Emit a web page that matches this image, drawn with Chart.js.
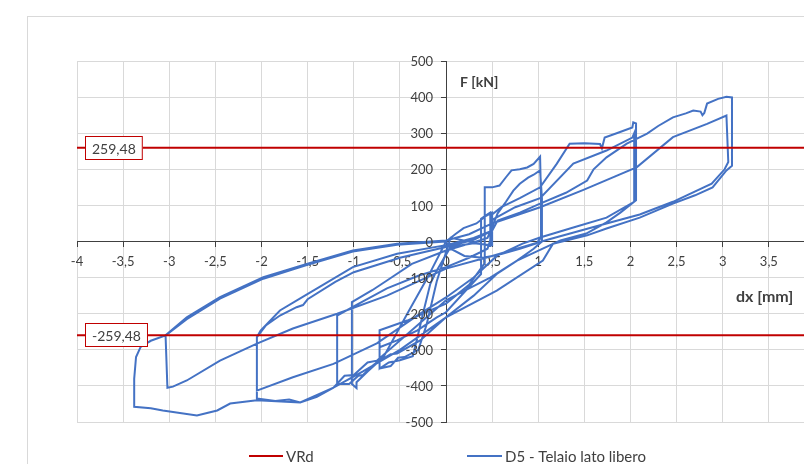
<!DOCTYPE html>
<html>
<head>
<meta charset="utf-8">
<script src="https://cdn.jsdelivr.net/npm/chart.js@4/dist/chart.umd.min.js"></script>
<style>
  html, body { margin: 0; padding: 0; background: #fff; overflow: hidden; }
  #wrap { position: absolute; left: 0; top: 0; width: 840px; height: 500px; }
</style>
</head>
<body>
<div id="wrap"><canvas id="c" width="840" height="500"></canvas></div>
<script>
// Shear resistance threshold (kN)
const vrd = 259.48;

// Axis ticks
const xTicks = [-4, -3.5, -3, -2.5, -2, -1.5, -1, -0.5, 0, 0.5, 1, 1.5, 2, 2.5, 3, 3.5, 4];
const yTicks = [-500, -400, -300, -200, -100, 0, 100, 200, 300, 400, 500];

// D5 - Telaio lato libero: [dx (mm), F (kN)] readings, one array per amplitude step
const cycle05 = [
  [0, 0], [0.10, 20], [0.19, 37], [0.33, 50], [0.44, 72], [0.50, 80], [0.50, -10], [0.30, -5], [0.05, -15],
  [-0.10, -80], [-0.17, -117], [-0.25, -200], [-0.31, -266], [-0.36, -318], [-0.50, -329], [-0.62, -335], [-0.72, -352],
  [-0.72, -293], [-0.53, -274], [-0.31, -246], [-0.10, -210], [0, -196], [0.20, -140], [0.38, -90], [0.38, -30],
  [0.38, 63], [0.45, 75], [0.48, 80], [0.48, -12], [0.25, 0], [0.05, 10], [-0.10, -110], [-0.21, -230], [-0.30, -300],
  [-0.45, -320], [-0.52, -322], [-0.60, -345], [-0.72, -352], [-0.72, -246], [-0.42, -219], [-0.17, -191], [0, -172],
  [0.25, -120], [0.42, -60], [0.42, 58]
];
const cycle1 = [
  [0.42, 150], [0.50, 150], [0.58, 155], [0.65, 178], [0.71, 197], [0.80, 200], [0.88, 205], [0.95, 215], [1.02, 235],
  [1.03, 120], [1.03, 11], [0.98, -5], [0.80, -20], [0.60, -35], [0.40, -45], [0.20, -40], [0.05, -20], [0, 0],
  [-0.20, -100], [-0.42, -200], [-0.68, -321], [-0.85, -360], [-0.97, -390], [-0.97, -406], [-1.02, -395], [-1.02, -168],
  [-0.80, -135], [-0.64, -108], [-0.37, -62], [0, -25], [0.20, -10], [0.45, 10], [0.50, 40], [0.56, 78], [0.65, 110],
  [0.73, 141], [0.80, 160], [0.89, 177], [0.95, 185], [1.02, 197], [1.04, 120], [1.04, 0], [0.95, -20], [0.77, -53],
  [0.55, -90], [0.30, -150], [0, -210], [-0.28, -274], [-0.53, -310], [-0.60, -312], [-0.75, -335], [-0.80, -345],
  [-0.90, -370], [-0.95, -372], [-1.05, -395], [-1.18, -394], [-1.18, -205], [-1.00, -180], [-0.64, -130], [-0.30, -95],
  [0, -71], [0.25, -45], [0.45, -20], [0.50, 20], [0.50, 75]
];
const cycle2 = [
  [0.60, 95], [0.80, 120], [1.02, 150], [1.20, 215], [1.34, 271], [1.50, 272], [1.67, 270], [1.69, 258], [1.72, 288],
  [1.85, 300], [2.02, 316], [2.03, 330], [2.06, 327], [2.06, 200], [2.06, 114], [1.89, 80], [1.74, 53], [1.52, 22],
  [1.31, 8], [1.24, 3], [0.77, -53], [0.48, -100], [0.25, -130], [0, -163], [-0.30, -230], [-0.75, -330], [-0.85, -335],
  [-1.00, -370], [-1.10, -372], [-1.22, -405], [-1.40, -430], [-1.58, -446], [-1.70, -438], [-1.85, -442], [-2.05, -435],
  [-2.05, -265], [-2.01, -247], [-1.80, -191], [-1.53, -150], [-1.37, -126], [-1.01, -71], [-0.53, -34], [0, -10],
  [0.30, 10], [0.50, 30], [0.50, 60], [0.75, 95], [1.02, 120], [1.38, 216], [1.74, 252], [2.02, 288], [2.04, 300],
  [2.04, 110], [1.74, 66], [1.38, 39], [1.02, 11], [0.83, -6], [0.55, -40], [0.30, -100], [0, -155], [-0.28, -200],
  [-0.75, -282], [-1.22, -339], [-1.66, -376], [-2.05, -413], [-2.05, -265], [-1.95, -232], [-1.80, -205], [-1.62, -182],
  [-1.55, -176], [-1.50, -160], [-1.20, -112], [-1.00, -85], [-0.50, -45], [0, -15], [0.30, 5], [0.50, 30]
];
const cycle3 = [
  [0.56, 58], [0.80, 80], [1.02, 105], [1.30, 135], [1.53, 169], [1.60, 200], [1.74, 233], [1.96, 271], [2.18, 299],
  [2.30, 320], [2.46, 344], [2.60, 355], [2.68, 363], [2.76, 360], [2.78, 350], [2.80, 356], [2.83, 382], [2.95, 395],
  [3.04, 401], [3.10, 399], [3.10, 300], [3.10, 210], [3.04, 197], [2.89, 150], [2.70, 128], [2.46, 105], [2.10, 66],
  [1.74, 36], [1.53, 17], [1.16, -6], [1.05, -53], [0.55, -136], [0, -210], [-0.50, -300], [-0.90, -360], [-1.22, -405],
  [-1.58, -446], [-2.05, -440], [-2.34, -449], [-2.48, -468], [-2.70, -482], [-3.07, -468], [-3.20, -462], [-3.38, -458],
  [-3.38, -380], [-3.36, -320], [-3.31, -292], [-3.20, -275], [-3.04, -260], [-2.81, -210], [-2.45, -154], [-1.98, -99],
  [-1.51, -62], [-1.01, -25], [-0.53, -6], [0, 3], [0.25, 20], [0.50, 50], [1.02, 95], [1.49, 143], [2.07, 206],
  [2.46, 289], [2.83, 326], [3.04, 349], [3.06, 220], [3.02, 200], [2.88, 160], [2.46, 110], [2.10, 75], [1.60, 40],
  [1.10, 5], [0.50, -40], [0, -75], [-0.64, -150], [-1.18, -200], [-1.66, -241], [-2.05, -283], [-2.45, -330],
  [-2.81, -385], [-2.96, -402], [-3.02, -405], [-3.04, -260], [-2.81, -215], [-2.45, -158], [-1.98, -103], [-1.51, -65],
  [-1.01, -28], [-0.53, -9], [0, 0]
];

const fmt = v => String(v).replace('.', ',');
const curve = [].concat(cycle05, cycle1, cycle2, cycle3).map(([x, y]) => ({ x, y }));

const RED = '#c00000';
const BLUE = '#4472c4';
const TEXT = '#404040';
const FONT = 'Lato, "Open Sans", sans-serif';

const decorations = {
  id: 'decorations',
  beforeDraw(chart) {
    const ctx = chart.ctx;
    ctx.save();
    ctx.fillStyle = '#fff';
    ctx.fillRect(0, 0, chart.width, chart.height);
    ctx.strokeStyle = '#d9d9d9';
    ctx.lineWidth = 1;
    ctx.strokeRect(27.5, 16.5, 900, 600);
    ctx.restore();
  },
  afterDraw(chart) {
    const ctx = chart.ctx;
    const xs = chart.scales.x;
    const ys = chart.scales.y;
    ctx.save();

    // force tick labels, left of the vertical axis
    const axisX = xs.getPixelForValue(0);
    ctx.font = '13px ' + FONT;
    ctx.fillStyle = TEXT;
    ctx.textAlign = 'right';
    ctx.textBaseline = 'middle';
    yTicks.forEach(v => ctx.fillText(fmt(v), axisX - 13, ys.getPixelForValue(v) + 1));

    // VRd value boxes
    const box = (val) => {
      const text = fmt(val);
      ctx.font = '14px ' + FONT;
      const w = ctx.measureText(text).width + 14;
      const h = 24;
      const x = 85;
      const yc = Math.round(ys.getPixelForValue(val));
      ctx.fillStyle = '#fff';
      ctx.fillRect(x, yc - h / 2, w, h);
      ctx.strokeStyle = RED;
      ctx.lineWidth = 1;
      ctx.strokeRect(x + 0.5, yc - h / 2 + 0.5, w - 1, h - 1);
      ctx.fillStyle = TEXT;
      ctx.textAlign = 'left';
      ctx.textBaseline = 'middle';
      ctx.fillText(text, x + 7, yc + 1);
    };
    box(vrd);
    box(-vrd);

    // axis titles
    ctx.font = 'bold 14px ' + FONT;
    ctx.fillStyle = TEXT;
    ctx.textAlign = 'left';
    ctx.textBaseline = 'middle';
    ctx.fillText('F [kN]', 460, 82);
    ctx.font = 'bold 16px ' + FONT;
    ctx.fillText('dx [mm]', 736, 297);

    // legend
    ctx.font = '15px ' + FONT;
    ctx.lineWidth = 2;
    ctx.strokeStyle = RED;
    ctx.beginPath(); ctx.moveTo(249, 456); ctx.lineTo(283, 456); ctx.stroke();
    ctx.fillText('VRd', 286, 457);
    ctx.strokeStyle = BLUE;
    ctx.beginPath(); ctx.moveTo(467, 456); ctx.lineTo(502, 456); ctx.stroke();
    ctx.fillText('D5 - Telaio lato libero', 505, 457);
    ctx.restore();
  }
};

const zeroPad = s => { s.paddingLeft = 0; s.paddingRight = 0; s.paddingTop = 0; s.paddingBottom = 0; };

new Chart(document.getElementById('c'), {
  type: 'scatter',
  data: {
    datasets: [
      { label: 'VRd', data: [{ x: -4, y: vrd }, { x: 4, y: vrd }], showLine: true, borderColor: RED, borderWidth: 2, pointRadius: 0, order: 0 },
      { label: 'VRd-', data: [{ x: -4, y: -vrd }, { x: 4, y: -vrd }], showLine: true, borderColor: RED, borderWidth: 2, pointRadius: 0, order: 0 },
      { label: 'D5 - Telaio lato libero', data: curve, showLine: true, borderColor: BLUE, borderWidth: 2, pointRadius: 0, tension: 0, order: 1 }
    ]
  },
  options: {
    responsive: false,
    animation: false,
    events: [],
    layout: { autoPadding: false, padding: { left: 77, top: 61, right: 25, bottom: 78 } },
    plugins: { legend: { display: false }, tooltip: { enabled: false }, title: { display: false } },
    scales: {
      x: {
        type: 'linear', min: -4, max: 4, position: { y: 0 },
        afterBuildTicks: s => { s.ticks = xTicks.map(v => ({ value: v })); },
        afterFit: zeroPad,
        grid: { color: '#d9d9d9', lineWidth: 1, tickColor: TEXT, tickLength: 5 },
        border: { color: TEXT, width: 1 },
        ticks: { color: TEXT, font: { family: FONT, size: 13 }, padding: 8, maxRotation: 0, autoSkip: false, callback: v => fmt(v) }
      },
      y: {
        type: 'linear', min: -500, max: 500, position: { x: 0 },
        afterBuildTicks: s => { s.ticks = yTicks.map(v => ({ value: v })); },
        afterFit: zeroPad,
        grid: { color: '#d9d9d9', lineWidth: 1, tickColor: TEXT, tickLength: 5 },
        border: { color: TEXT, width: 1 },
        ticks: { display: false }
      }
    }
  },
  plugins: [decorations]
});
</script>
</body>
</html>
